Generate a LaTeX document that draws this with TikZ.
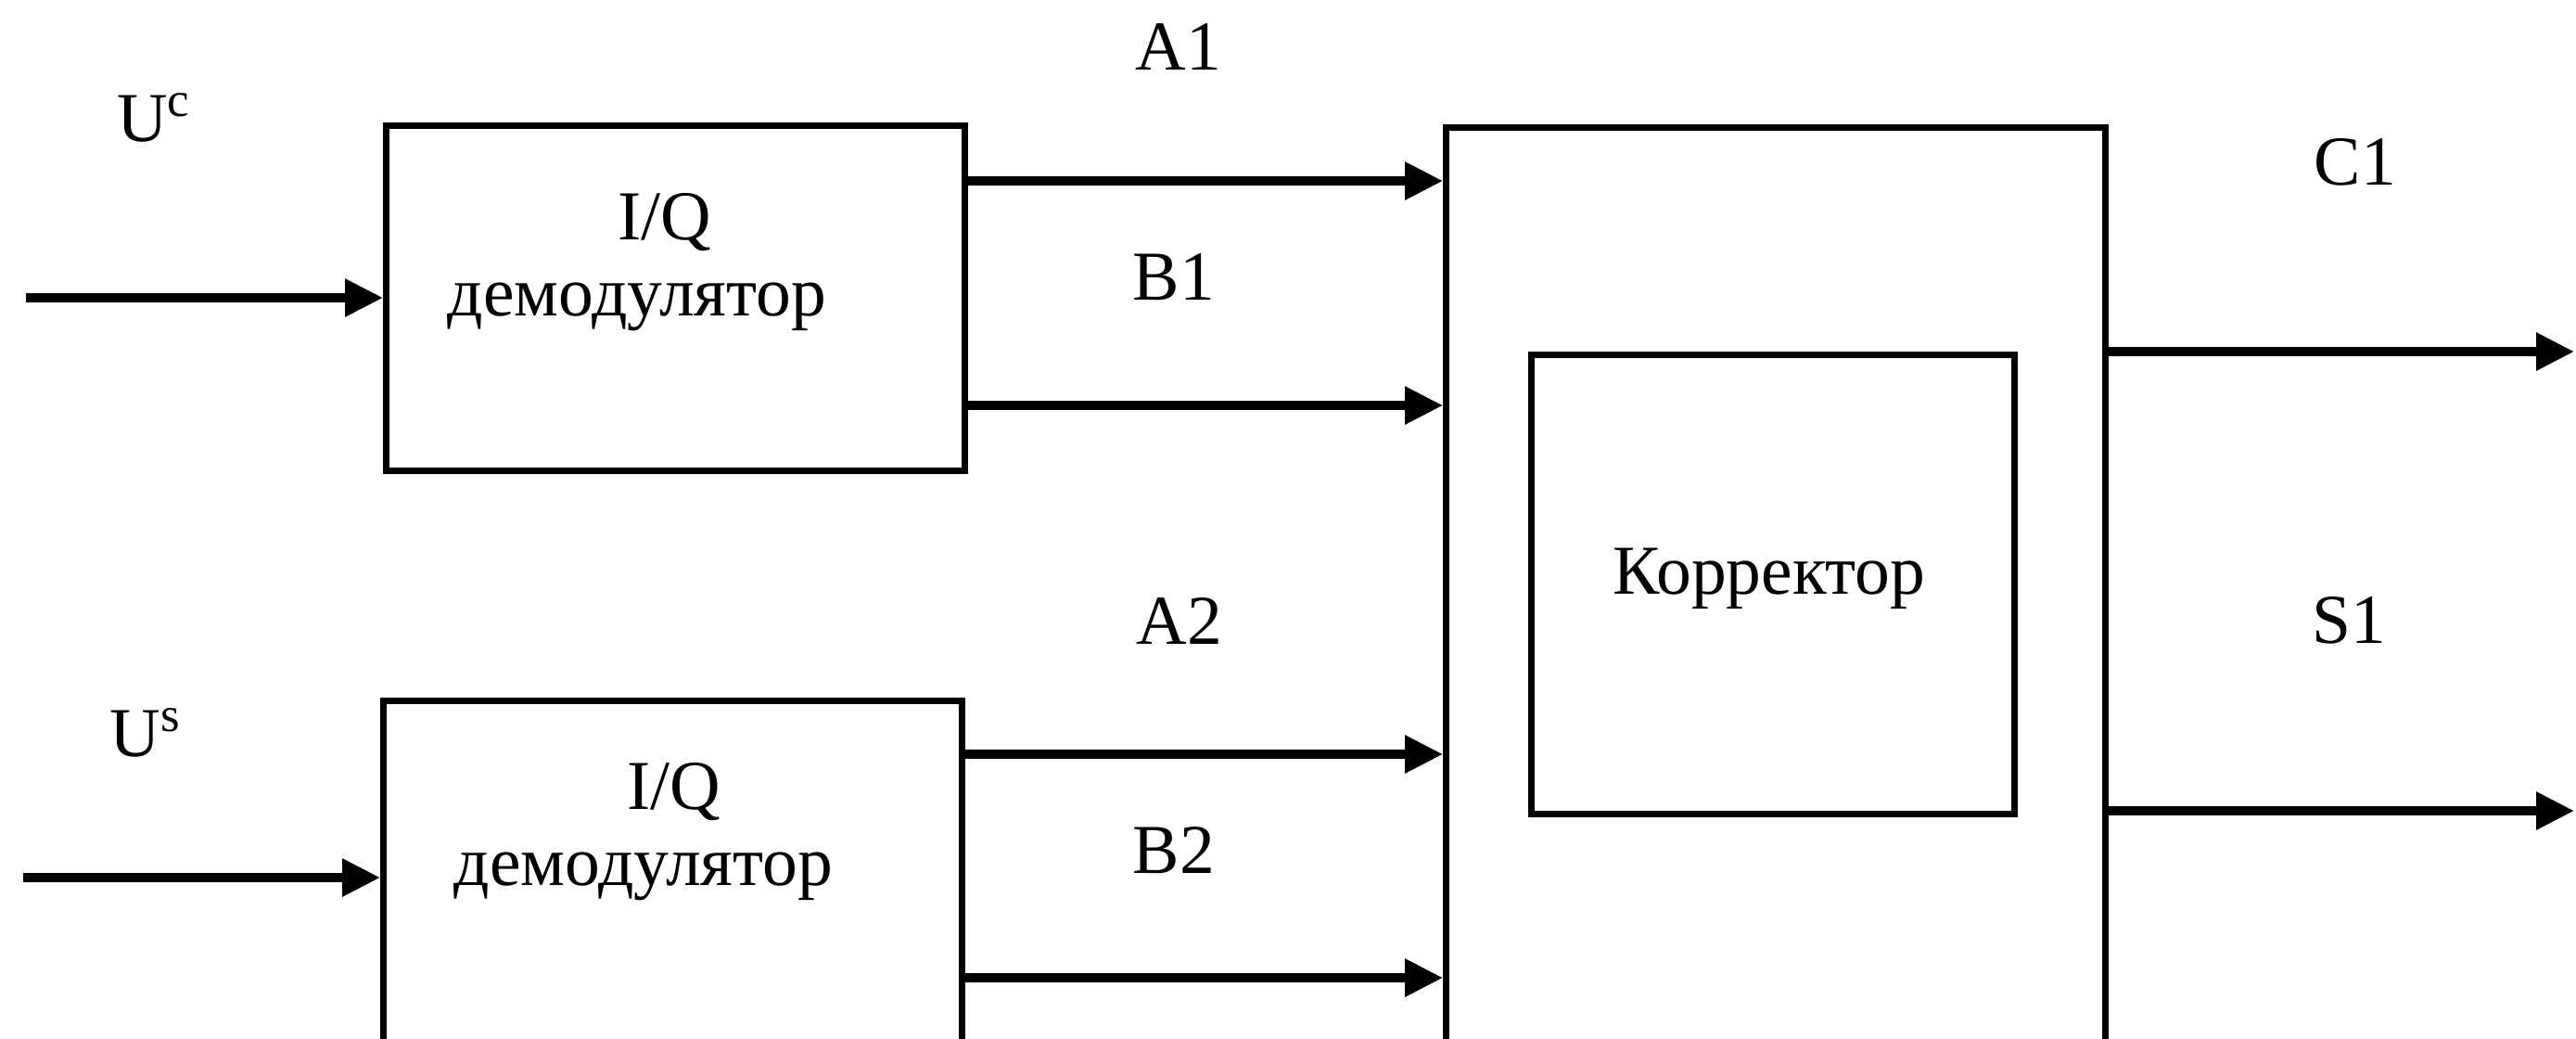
\documentclass[tikz,border=0pt]{standalone}
\usepackage{fontspec}
\setmainfont{Liberation Serif}
\usetikzlibrary{arrows.meta,positioning,calc}

\begin{document}
\begin{tikzpicture}[
  font=\fontsize{21.5}{23.3}\selectfont,
  blk/.style={rectangle, draw=black, line width=2.1pt, inner sep=0pt, anchor=north west},
  demod/.style={blk, minimum width=6.24cm, minimum height=3.72cm},
  sig/.style={-{Triangle[length=4.1mm, width=3.9mm]}, line width=2.6pt},
  lbl/.style={anchor=base},
  txt/.style={align=center},
]
\useasboundingbox (0,0) rectangle (27.78,-11.19);
\clip (0,0) rectangle (27.78,-11.19);

% ---------- the two I/Q demodulators
\node[demod] (dm1) at (4.13,-1.32) {};
\node[demod] (dm2) at (4.10,-7.52) {};
\node[txt] (t1) at (6.87,-2.83) {\hspace*{0.6cm}I/Q\\демодулятор};
\node[txt] (t2) at (6.94,-8.97) {\hspace*{0.66cm}I/Q\\демодулятор};

% ---------- corrector block, cut by the lower edge
\node[blk, minimum width=7.11cm, minimum height=10cm] (kor) at (15.56,-1.34) {};
\node[blk, minimum width=5.21cm, minimum height=4.95cm] (korr) at (16.48,-3.79) {};
\node[lbl] (tk) at (19.08,-6.40) {Корректор};

% ---------- inputs
\coordinate (uc) at (0.28,-3.21);
\coordinate (us) at (0.25,-9.46);
\draw[sig] (uc) -- (uc -| dm1.west);
\draw[sig] (us) -- (us -| dm2.west);
\node[lbl] (luc) at (1.66,-1.52) {U\textsuperscript{c}};
\node[lbl] (lus) at (1.57,-8.15) {U\textsuperscript{s}};

% ---------- demodulator outputs into the corrector
\coordinate (a1) at ($(dm1.north east)+(0,-0.63)$);
\coordinate (b1) at ($(dm1.north east)+(0,-3.05)$);
\coordinate (a2) at ($(dm2.north east)+(0,-0.61)$);
\coordinate (b2) at ($(dm2.north east)+(0,-3.02)$);
\foreach \p in {a1,b1,a2,b2}
  \draw[sig] (\p) -- (\p -| kor.west);
\node[lbl] (la1) at (12.71,-0.75) {A1};
\node[lbl] (lb1) at (12.66,-3.23) {B1};
\node[lbl] (la2) at (12.72,-6.94) {A2};
\node[lbl] (lb2) at (12.66,-9.41) {B2};

% ---------- outputs
\coordinate (c1) at (27.76,-3.79);
\coordinate (s1) at (27.76,-8.74);
\draw[sig] (c1 -| kor.east) -- (c1);
\draw[sig] (s1 -| kor.east) -- (s1);
\node[lbl] (lc1) at (25.40,-1.99) {C1};
\node[lbl] (ls1) at (25.33,-6.93) {S1};
\end{tikzpicture}
\end{document}
